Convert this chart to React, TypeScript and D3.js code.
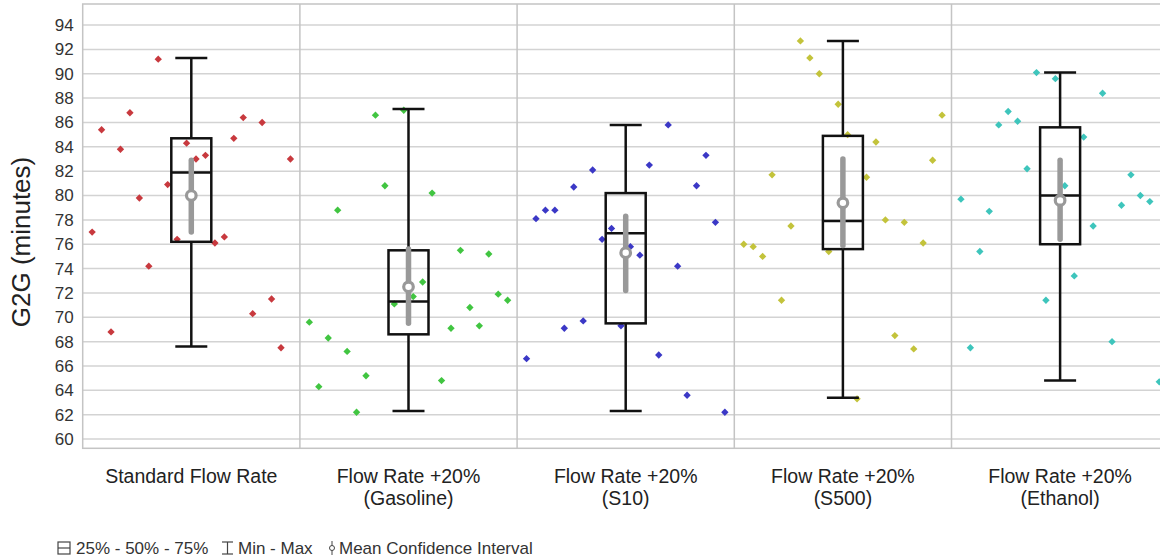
import { useEffect, useRef } from "react"
import * as d3 from "d3"

// categories and their two-line labels
const categories = ["Standard", "Gasoline", "S10", "S500", "Ethanol"]
const categoryLabels = [
    ["Standard Flow Rate"],
    ["Flow Rate +20%", "(Gasoline)"],
    ["Flow Rate +20%", "(S10)"],
    ["Flow Rate +20%", "(S500)"],
    ["Flow Rate +20%", "(Ethanol)"],
]

// observations per category, in plotted order
const standardValues = [77.0, 85.4, 68.8, 83.8, 86.8, 79.8, 74.2, 91.2, 80.9, 76.4, 84.3, 83.0, 83.3, 76.1, 76.6, 84.7, 86.4, 70.3, 86.0, 71.5, 67.5, 83.0]
const gasolineValues = [69.6, 64.3, 68.3, 78.8, 67.2, 62.2, 65.2, 86.6, 80.8, 71.1, 87.0, 71.7, 72.9, 80.2, 64.8, 69.1, 75.5, 70.8, 69.3, 75.2, 71.9, 71.4]
const s10Values = [66.6, 78.1, 78.8, 78.8, 69.1, 80.7, 69.7, 82.1, 76.4, 77.3, 69.3, 75.8, 75.1, 82.5, 66.9, 85.8, 74.2, 63.6, 80.8, 83.3, 77.8, 62.2]
const s500Values = [76.0, 75.8, 75.0, 81.7, 71.4, 77.5, 92.7, 91.3, 90.0, 75.4, 87.5, 85.0, 63.3, 81.5, 84.4, 78.0, 68.5, 77.8, 67.4, 76.1, 82.9, 86.6]
const ethanolValues = [79.7, 67.5, 75.4, 78.7, 85.8, 86.9, 86.1, 82.2, 90.1, 71.4, 89.6, 80.8, 73.4, 84.8, 77.5, 88.4, 68.0, 79.2, 81.7, 80.0, 79.5, 64.7]
const seriesValues = [standardValues, gasolineValues, s10Values, s500Values, ethanolValues]

// box plot statistics
const mins = [67.6, 62.3, 62.3, 63.4, 64.8]
const q1s = [76.2, 68.6, 69.5, 75.6, 76.0]
const medians = [81.9, 71.3, 76.9, 77.9, 80.0]
const q3s = [84.7, 75.5, 80.2, 84.9, 85.6]
const maxs = [91.3, 87.1, 85.8, 92.7, 90.1]
const means = [80.0, 72.5, 75.3, 79.4, 79.6]
const ciLows = [77.0, 69.5, 72.2, 75.9, 76.4]
const ciHighs = [82.9, 75.6, 78.3, 83.0, 82.9]

const yTicks = [60, 62, 64, 66, 68, 70, 72, 74, 76, 78, 80, 82, 84, 86, 88, 90, 92, 94]
const colors = ["#c8393e", "#41c541", "#3b38c6", "#c3c33b", "#3ec5bc"]

const width = 1160
const height = 560
const left = 82.7
const top = 4
const bottom = 448.3
const panelWidth = 217.2

const App = () => {
    const ref = useRef(null)

    useEffect(() => {
        const svg = d3.select(ref.current)
        svg.selectAll("*").remove()

        const x = d3.scaleBand()
            .domain(categories)
            .range([left, left + panelWidth * categories.length])
            .padding(0)
        const y = d3.scaleLinear().domain([59.24, 95.73]).range([bottom, top])
        const font = "'Liberation Sans', Arial, sans-serif"

        // grid
        svg.append("g")
            .selectAll("line")
            .data(yTicks)
            .join("line")
            .attr("x1", left)
            .attr("x2", width)
            .attr("y1", d => y(d))
            .attr("y2", d => y(d))
            .attr("stroke", "#d3d3d3")
            .attr("stroke-width", 1.5)

        svg.append("rect")
            .attr("x", left)
            .attr("y", top)
            .attr("width", panelWidth * categories.length)
            .attr("height", bottom - top)
            .attr("fill", "none")
            .attr("stroke", "#c4c4c4")
            .attr("stroke-width", 1.5)

        svg.append("g")
            .selectAll("line")
            .data(categories.slice(1))
            .join("line")
            .attr("x1", d => x(d))
            .attr("x2", d => x(d))
            .attr("y1", top)
            .attr("y2", bottom)
            .attr("stroke", "#c4c4c4")
            .attr("stroke-width", 1.5)

        // y ticks
        svg.append("g")
            .selectAll("text")
            .data(yTicks)
            .join("text")
            .attr("x", left - 9)
            .attr("y", d => y(d))
            .attr("dy", "0.35em")
            .attr("text-anchor", "end")
            .attr("font-family", font)
            .attr("font-size", 17)
            .attr("fill", "#333")
            .text(d => d)

        svg.append("text")
            .attr("transform", `translate(30, 242) rotate(-90)`)
            .attr("text-anchor", "middle")
            .attr("font-family", font)
            .attr("font-size", 26)
            .attr("fill", "#222")
            .text("G2G (minutes)")

        // category labels
        const labels = svg.append("g")
            .selectAll("text")
            .data(categories)
            .join("text")
            .attr("text-anchor", "middle")
            .attr("font-family", font)
            .attr("font-size", 19.5)
            .attr("fill", "#222")
        labels.selectAll("tspan")
            .data((d, i) => categoryLabels[i])
            .join("tspan")
            .attr("x", function () { return x(d3.select(this.parentNode).datum()) + x.bandwidth() / 2 })
            .attr("y", (d, i) => 483 + i * 22)
            .text(d => d)

        const diamond = d3.symbol(d3.symbolSquare, 27)

        categories.forEach((cat, ci) => {
            const cx = x(cat) + x.bandwidth() / 2
            const px = d3.scalePoint()
                .domain(d3.range(seriesValues[ci].length))
                .range([x(cat), x(cat) + x.bandwidth()])
                .padding(1)

            const g = svg.append("g")

            g.selectAll("path.pt")
                .data(seriesValues[ci])
                .join("path")
                .attr("class", "pt")
                .attr("d", diamond)
                .attr("fill", colors[ci])
                .attr("transform", (d, i) => `translate(${px(i)}, ${y(d)}) rotate(45)`)

            const boxW = 40
            const capW = 32
            const stroke = "#111"

            g.append("line")
                .attr("x1", cx).attr("x2", cx)
                .attr("y1", y(maxs[ci])).attr("y2", y(q3s[ci]))
                .attr("stroke", stroke).attr("stroke-width", 2.5)
            g.append("line")
                .attr("x1", cx).attr("x2", cx)
                .attr("y1", y(q1s[ci])).attr("y2", y(mins[ci]))
                .attr("stroke", stroke).attr("stroke-width", 2.5)
            ;[maxs[ci], mins[ci]].forEach(v => {
                g.append("line")
                    .attr("x1", cx - capW / 2).attr("x2", cx + capW / 2)
                    .attr("y1", y(v)).attr("y2", y(v))
                    .attr("stroke", stroke).attr("stroke-width", 2.5)
            })
            g.append("rect")
                .attr("x", cx - boxW / 2)
                .attr("y", y(q3s[ci]))
                .attr("width", boxW)
                .attr("height", y(q1s[ci]) - y(q3s[ci]))
                .attr("fill", "none")
                .attr("stroke", stroke)
                .attr("stroke-width", 2.5)
            g.append("line")
                .attr("x1", cx - boxW / 2).attr("x2", cx + boxW / 2)
                .attr("y1", y(medians[ci])).attr("y2", y(medians[ci]))
                .attr("stroke", stroke).attr("stroke-width", 2.5)

            // mean confidence interval
            g.append("line")
                .attr("x1", cx).attr("x2", cx)
                .attr("y1", y(ciHighs[ci])).attr("y2", y(ciLows[ci]))
                .attr("stroke", "#999").attr("stroke-width", 5.5)
                .attr("stroke-linecap", "round")
            g.append("circle")
                .attr("cx", cx).attr("cy", y(means[ci]))
                .attr("r", 4.8)
                .attr("fill", "#fff")
                .attr("stroke", "#999")
                .attr("stroke-width", 3.2)
        })

        // legend
        const lg = svg.append("g").attr("font-family", font).attr("font-size", 17).attr("fill", "#333")
        const ly = 548
        lg.append("rect").attr("x", 58).attr("y", ly - 6).attr("width", 12).attr("height", 12)
            .attr("fill", "none").attr("stroke", "#444").attr("stroke-width", 1.2)
        lg.append("line").attr("x1", 58).attr("x2", 70).attr("y1", ly).attr("y2", ly)
            .attr("stroke", "#444").attr("stroke-width", 1.2)
        lg.append("text").attr("x", 76).attr("y", ly).attr("dy", "0.35em").text("25% - 50% - 75%")

        lg.append("line").attr("x1", 227.5).attr("x2", 227.5).attr("y1", ly - 6).attr("y2", ly + 6)
            .attr("stroke", "#444").attr("stroke-width", 1.2)
        ;[ly - 6, ly + 6].forEach(v => {
            lg.append("line").attr("x1", 222).attr("x2", 233).attr("y1", v).attr("y2", v)
                .attr("stroke", "#444").attr("stroke-width", 1.2)
        })
        lg.append("text").attr("x", 238).attr("y", ly).attr("dy", "0.35em").text("Min - Max")

        lg.append("line").attr("x1", 332).attr("x2", 332).attr("y1", ly - 7).attr("y2", ly + 7)
            .attr("stroke", "#444").attr("stroke-width", 1)
        lg.append("circle").attr("cx", 332).attr("cy", ly).attr("r", 2.5)
            .attr("fill", "#fff").attr("stroke", "#444").attr("stroke-width", 1)
        lg.append("text").attr("x", 339).attr("y", ly).attr("dy", "0.35em").text("Mean Confidence Interval")
    })

    return (
        <svg
            ref={ref}
            width={width}
            height={height}
            style={{ position: "absolute", left: 0, top: 0, background: "#fff" }}
        />
    )
}

export default App
